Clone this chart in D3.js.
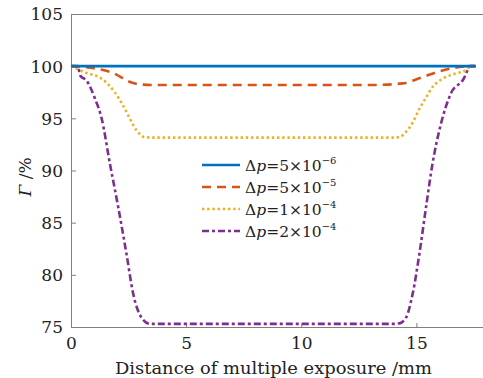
<!DOCTYPE html>
<html><head><meta charset="utf-8">
<script src="https://cdn.jsdelivr.net/npm/d3@7"></script>
<style>html,body{margin:0;padding:0;background:#fff;}svg{display:block;}</style>
</head><body>
<svg id="c" width="483" height="378"></svg>
<script>
const xTicks = [0, 5, 10, 15];
const yTicks = [75, 80, 85, 90, 95, 100, 105];

const blueX = [0, 5, 10, 15, 17.58];
const blueY = [100, 100, 100, 100, 100];

const orangeX = [0, 1.0, 1.82, 2.6, 3.0, 3.5, 8, 13.2, 14.4, 15.2, 16.0, 16.8, 17.3, 17.58];
const orangeY = [100, 99.8, 99.35, 98.45, 98.25, 98.2, 98.2, 98.2, 98.35, 98.9, 99.5, 99.9, 100, 100];

const yellowX = [0, 0.61, 1.33, 1.9, 2.27, 2.56, 2.85, 3.2, 3.6, 8, 13.9, 14.26, 14.55, 14.84, 15.13, 15.42, 15.7, 16.14, 16.72, 17.15, 17.3, 17.58];
const yellowY = [100, 99.4, 98.8, 97.5, 96.2, 94.96, 93.84, 93.2, 93.15, 93.15, 93.15, 93.2, 93.7, 94.6, 95.9, 97.0, 98.0, 98.8, 99.3, 99.6, 99.9, 100];

const purpleX = [0, 0.3, 0.4, 0.68, 1.04, 1.33, 1.69, 2.05, 2.41, 2.7, 3.06, 3.42, 5, 8, 11, 14.0, 14.26, 14.55, 14.84, 15.13, 15.42, 15.7, 16.07, 16.5, 17.08, 17.22, 17.3, 17.58];
const purpleY = [100, 100, 99.1, 98.6, 96.9, 95.0, 90.65, 86.5, 82.0, 78.2, 75.9, 75.3, 75.3, 75.3, 75.3, 75.3, 75.35, 75.9, 78.2, 82.0, 86.5, 90.65, 94.5, 97.4, 98.9, 99.6, 100, 100];

const legendMant = ["5", "5", "1", "2"];
const legendExp = ["−6", "−5", "−4", "−4"];

const colors = ["#0072BD", "#D95319", "#EDB120", "#7E2F8E"];
const dashes = [null, "9,6", "2.4,2.8", "7,3,3,3"];

const svg = d3.select("#c");
const font = "'DejaVu Serif','Liberation Serif',serif";
const L = 71, R = 482, T = 14, B = 327;
const x = d3.scaleLinear().domain([0, 17.85]).range([L, R]);
const y = d3.scaleLinear().domain([75, 105]).range([B, T]);

const axisColor = "#808080";
svg.append("line").attr("x1", L).attr("x2", R + 1).attr("y1", T + 0.5).attr("y2", T + 0.5).attr("stroke", axisColor);
svg.append("line").attr("x1", L + 0.5).attr("x2", L + 0.5).attr("y1", T).attr("y2", B).attr("stroke", axisColor);

const xAxis = d3.axisBottom(x).tickValues(xTicks).tickSizeInner(-4).tickSizeOuter(0).tickPadding(9);
const gx = svg.append("g").attr("transform", `translate(0,${B})`).call(xAxis);
gx.select(".domain").attr("stroke", axisColor).attr("d", `M${L},0.5H${R + 1}`);
gx.selectAll(".tick line").attr("stroke", axisColor);
gx.selectAll(".tick text").attr("font-family", font).attr("font-size", 17).attr("fill", "#222").attr("dy", "0.75em");

const yAxis = d3.axisLeft(y).tickValues(yTicks).tickSizeInner(-5).tickSizeOuter(0).tickPadding(8);
const gy = svg.append("g").attr("transform", `translate(${L},0)`).call(yAxis);
gy.select(".domain").remove();
gy.selectAll(".tick line").attr("stroke", axisColor);
gy.selectAll(".tick text").attr("font-family", font).attr("font-size", 17).attr("fill", "#222").attr("dy", "0.35em");

svg.append("text").attr("x", 273.5).attr("y", 374).attr("text-anchor", "middle")
  .attr("font-family", font).attr("font-size", 17).attr("fill", "#222")
  .attr("textLength", 317).attr("lengthAdjust", "spacingAndGlyphs")
  .text("Distance of multiple exposure /mm");
const yl = svg.append("text").attr("transform", "translate(31,177) rotate(-90)").attr("text-anchor", "middle")
  .attr("font-family", font).attr("font-size", 17).attr("fill", "#222");
yl.append("tspan").attr("font-style", "italic").text("Γ");
yl.append("tspan").text(" /%");

const seriesX = [blueX, orangeX, yellowX, purpleX];
const seriesY = [blueY, orangeY, yellowY, purpleY];
const line = d3.line().x(d => x(d[0])).y(d => y(d[1])).curve(d3.curveMonotoneX);
[3, 2, 1, 0].forEach(i => {
  const pts = seriesX[i].map((v, k) => [v, seriesY[i][k]]);
  svg.append("path").attr("d", line(pts)).attr("fill", "none")
    .attr("stroke", colors[i]).attr("stroke-width", 2.6)
    .attr("stroke-dasharray", dashes[i]);
});

const lg = svg.append("g");
[0, 1, 2, 3].forEach(i => {
  const yy = 165 + i * 22;
  lg.append("line").attr("x1", 202).attr("x2", 240).attr("y1", yy).attr("y2", yy)
    .attr("stroke", colors[i]).attr("stroke-width", 2.6).attr("stroke-dasharray", dashes[i]);
  const t = lg.append("text").attr("x", 245).attr("y", yy + 6)
    .attr("font-family", font).attr("font-size", 15.5).attr("fill", "#222");
  t.append("tspan").text("Δ");
  t.append("tspan").attr("font-style", "italic").text("p");
  t.append("tspan").text("=" + legendMant[i] + "×10");
  t.append("tspan").attr("font-size", 10).attr("dy", -7).text(legendExp[i]);
});
</script>
</body></html>
